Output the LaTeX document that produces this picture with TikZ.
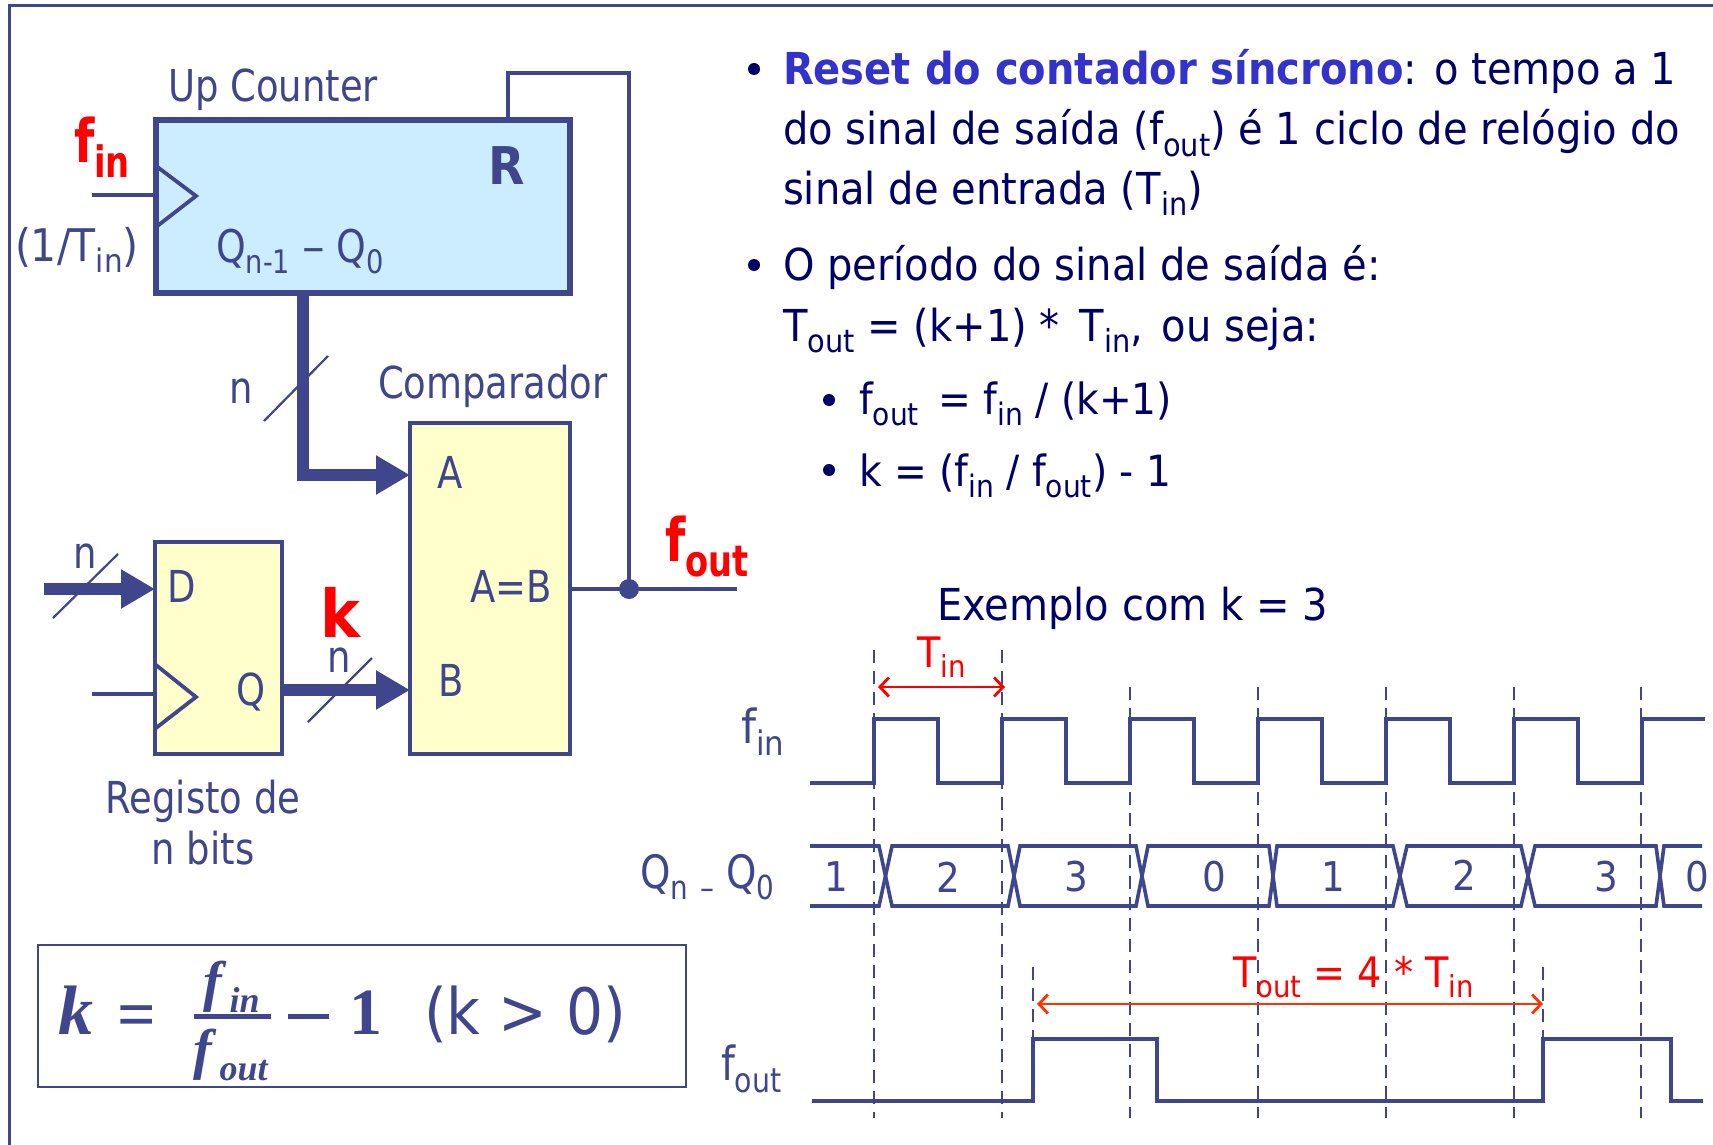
\documentclass[tikz,border=0pt]{standalone}
\usepackage{graphicx}
\usepackage{fontspec}
\usetikzlibrary{arrows.meta,calc}
\setmainfont[FakeStretch=0.78]{DejaVu Sans}
\newfontfamily\navf[FakeStretch=0.91]{DejaVu Sans}
\newfontfamily\lblf[FakeStretch=0.84]{DejaVu Sans}
\newcommand\tabold{\bfseries}
\newfontfamily\serifam{Liberation Serif}
\newcommand\frmbi{\serifam\bfseries\itshape}
\newcommand\frmb{\serifam\bfseries}
\definecolor{ink}{HTML}{3F468C}
\definecolor{navy}{HTML}{000066}
\definecolor{titleblue}{HTML}{3333CC}
\definecolor{boxblue}{HTML}{CCECFF}
\definecolor{boxyellow}{HTML}{FFFFCC}
\definecolor{arrowred}{HTML}{FF3300}
\newcommand\lo[1]{\raisebox{-.26em}{\scalebox{.72}{#1}}}
\newcommand\sz[1]{\fontsize{#1}{#1}\selectfont}
\newcommand\fsub[1]{\kern8pt\raisebox{-12pt}{\fontsize{36}{36}\selectfont #1}}
\tikzset{
  x=1pt,y=-1pt,
  lab/.style={anchor=base west,inner sep=0pt,outer sep=0pt,text=ink,font=\sz{44}\lblf},
  lab+/.style={anchor=base west,inner sep=0pt,outer sep=0pt,text=ink,font=\sz{45}\navf},
  txt/.style={anchor=base west,inner sep=0pt,outer sep=0pt,text=navy,font=\sz{44}\navf},
  redlab/.style={anchor=base west,inner sep=0pt,outer sep=0pt,text=red,font=\sz{60}\tabold},
  redthin/.style={anchor=base west,inner sep=0pt,outer sep=0pt,text=red,font=\sz{42}\navf},
  dot/.style={circle,fill=navy,inner sep=0pt,minimum size=12pt},
  blockbox/.style={draw=ink,inner sep=0pt,outer sep=0pt,line width=4pt},
  wire/.style={draw=ink,line width=3.2pt},
  bus/.style={draw=ink,line width=12pt,-{Triangle[length=34pt,width=37pt]}},
  slash/.style={draw=ink,line width=2.2pt},
  wave/.style={draw=ink,line width=3.6pt,line join=miter},
  guide/.style={draw=ink,line width=1.8pt,dash pattern=on 13pt off 8pt},
  redarrow/.style={line width=2.8pt,{Straight Barb[length=9pt,width=19pt]}-{Straight Barb[length=9pt,width=19pt]}},
  qval/.style={anchor=center,inner sep=0pt,text=ink,font=\sz{41}\navf},
}
\begin{document}
\begin{tikzpicture}
\useasboundingbox (0,0) rectangle (1713,1145);
% frame
\coordinate (fa) at (9,1145); \coordinate (fb) at (9,6); \coordinate (fc) at (1713,6);
\draw[ink,line width=3pt] (fa) -- (fb) -- (fc);

% counter
\node[blockbox,line width=5.5pt,fill=boxblue,minimum width=414pt,minimum height=173pt] (counter) at (363,206.5) {};
\coordinate (ckA) at (156,166); \coordinate (ckB) at (196,196); \coordinate (ckC) at (156,227);
\draw[wire,line width=3.8pt] (ckA) -- (ckB) -- (ckC);
\coordinate (ckin) at (92,195); \coordinate (ckinE) at (156,195);
\draw[wire,line width=3.8pt] (ckin) -- (ckinE);
% comparator, register
\node[blockbox,fill=boxyellow,minimum width=160pt,minimum height=331pt] (cmp) at (490,588.5) {};
\node[blockbox,fill=boxyellow,minimum width=127pt,minimum height=212pt] (reg) at (218.5,648) {};
\coordinate (rA) at (156,665); \coordinate (rB) at (196,697); \coordinate (rC) at (156,728);
\draw[wire,line width=3.8pt] (rA) -- (rB) -- (rC);
\coordinate (rin) at (92,694); \coordinate (rinE) at (156,694);
\draw[wire,line width=3.8pt] (rin) -- (rinE);
% junction and feedback
\node[circle,fill=ink,inner sep=0pt,minimum size=20pt] (jn) at (629,589) {};
\coordinate (rtop) at (508,120); \coordinate (fbk) at (508,73); \coordinate (outE) at (737,589);
\draw[wire] (rtop) -- (fbk) -| (jn.center);
\draw[wire] (cmp.east |- jn) -- (outE);
% buses
\coordinate (qbusS) at (303,293); \coordinate (qbusE) at (410,475);
\draw[bus] (qbusS) |- (qbusE);
\coordinate (dS) at (44,589); \coordinate (dE) at (155,589);
\draw[bus] (dS) -- (dE);
\coordinate (kS) at (282,690); \coordinate (kE) at (410,690);
\draw[bus] (kS) -- (kE);
% slashes
\coordinate (s1a) at (264,421); \coordinate (s1b) at (328,356); \draw[slash] (s1a) -- (s1b);
\coordinate (s2a) at (53,618); \coordinate (s2b) at (118,554); \draw[slash] (s2a) -- (s2b);
\coordinate (s3a) at (308,722); \coordinate (s3b) at (372,658); \draw[slash] (s3a) -- (s3b);

% left labels
\node[lab] (tUp) at (168,102) {Up Counter};
\node[redlab] (tfin) at (74,162) {f\lo{in}};
\node[lab+] (t1T) at (15,261) {(1/T\lo{in})};
\node[lab,font=\sz{52}\navf\tabold] (tR) at (488,184) {R};
\node[lab,font=\sz{45}\lblf] (tQ) at (216,262) {Q\lo{n-1} \scalebox{1.2}[1]{–} Q\lo{0}};
\node[lab] (tn1) at (229,403) {n};
\node[lab] (tCmp) at (378,398) {Comparador};
\node[lab] (tA) at (437,488) {A};
\node[lab] (tAB) at (470,602) {A=B};
\node[lab] (tB) at (438,696) {B};
\node[redlab] (tfout) at (665,561) {f\lo{out}};
\node[lab] (tn2) at (73,568) {n};
\node[lab] (tD) at (167,602) {D};
\node[redlab,font=\sz{66}\navf\tabold] (tk) at (320,637) {k};
\node[lab] (tn3) at (327,672) {n};
\node[lab] (tQ2) at (236,705) {Q};
\node[lab,anchor=base] (tReg) at (203,813) {Registo de};
\node[lab,anchor=base] (tBits) at (203,864) {n bits};

% formula
\node[draw=ink,line width=2pt,inner sep=0pt,minimum width=648pt,minimum height=142pt] (fbox) at (362,1016) {};
\node[lab,font=\sz{70}\frmbi] (fk) at (58,1034) {k};
\node[lab,font=\sz{68}\frmb] (feq) at (117,1037) {=};
\node[lab,font=\sz{56}\frmbi] (ff1) at (203,1000) {f\fsub{in}};
\node[lab,font=\sz{56}\frmbi] (ff2) at (193,1068) {f\fsub{out}};
\coordinate (bar1) at (194,1016); \coordinate (bar2) at (271,1016);
\draw[ink,line width=5pt] (bar1) -- (bar2);
\coordinate (mn1) at (288,1016); \coordinate (mn2) at (329,1016);
\draw[ink,line width=5pt] (mn1) -- (mn2);
\node[lab,font=\sz{66}\frmb] (f1) at (349,1034) {1};
\node[lab,font=\sz{64}\navf] (fkk) at (424,1034) {(k > 0)};

% right text
\node[dot] (b1) at (754,69) {};
\node[txt] (l1) at (783,85) {{\tabold\color{titleblue}Reset do contador síncrono}: o tempo a 1};
\node[txt] (l2) at (783,145) {do sinal de saída (f\lo{out}) é 1 ciclo de relógio do};
\node[txt] (l3) at (783,204) {sinal de entrada (T\lo{in})};
\node[dot] (b2) at (754,265) {};
\node[txt] (l4) at (783,280) {O período do sinal de saída é:};
\node[txt] (l5) at (783,341) {T\lo{out} = (k+1) * \kern7pt T\lo{in}, \kern6pt ou seja:};
\node[dot] (b3) at (829,400) {};
\node[txt,font=\sz{43}\navf] (l6) at (859,414) {f\lo{out}\, = f\lo{in} / (k+1)};
\node[dot] (b4) at (829,470) {};
\node[txt,font=\sz{43}\navf] (l7) at (859,486) {k = (f\lo{in} / f\lo{out}) - 1};
\node[txt] (ex) at (937,620) {Exemplo com k = 3};

% timing labels
\node[lab+,font=\sz{47}\navf] (wf1) at (741,743) {f\lo{in}};
\node[lab,font=\sz{46}\lblf] (wq) at (640,888) {Q\lo{n} \lo{–} Q\lo{0}};
\node[lab,font=\sz{47}\lblf] (wf2) at (721,1080) {f\lo{out}};

% guides
\foreach \n/\gx in {g1/874,g2/1002} {
  \coordinate (\n a) at (\gx,650); \coordinate (\n b) at (\gx,1118);
  \draw[guide] (\n a) -- (\n b);
}
\foreach \n/\gx in {g3/1130,g4/1258,g5/1386,g6/1514,g7/1641} {
  \coordinate (\n a) at (\gx,687); \coordinate (\n b) at (\gx,1118);
  \draw[guide] (\n a) -- (\n b);
}
\coordinate (h1a) at (1033,967); \coordinate (h1b) at (1033,1039); \draw[guide] (h1a) -- (h1b);
\coordinate (h2a) at (1543,967); \coordinate (h2b) at (1543,1039); \draw[guide] (h2a) -- (h2b);

% fin wave
\coordinate (w0) at (810,783);
\draw[wave] (w0) -- (874,783) -- (874,719) -- (938,719) -- (938,783) -- (1002,783) -- (1002,719) -- (1066,719) -- (1066,783) -- (1130,783) -- (1130,719) -- (1194,719) -- (1194,783) -- (1258,783) -- (1258,719) -- (1322,719) -- (1322,783) -- (1386,783) -- (1386,719) -- (1450,719) -- (1450,783) -- (1514,783) -- (1514,719) -- (1578,719) -- (1578,783) -- (1642,783) -- (1642,719) -- (1705,719);
% fout wave
\draw[wave] (812,1101) -- (1033,1101) -- (1033,1039) -- (1157,1039) -- (1157,1101) -- (1543,1101) -- (1543,1039) -- (1671,1039) -- (1671,1101) -- (1703,1101);
% Q bus wave
\draw[wave] (810,846) -- (879,846) -- (892,906) -- (1008,906) -- (1020,846) -- (1136,846) -- (1148,906) -- (1269,906) -- (1277,846) -- (1393,846) -- (1407,906) -- (1521,906) -- (1535,846) -- (1656,846) -- (1664,906) -- (1702,906);
\draw[wave] (810,906) -- (879,906) -- (892,846) -- (1008,846) -- (1020,906) -- (1136,906) -- (1148,846) -- (1269,846) -- (1277,906) -- (1393,906) -- (1407,846) -- (1521,846) -- (1535,906) -- (1656,906) -- (1664,846) -- (1702,846);
\node[qval] (q1) at (836,877) {1};
\node[qval] (q2) at (948,877) {2};
\node[qval] (q3) at (1076,877) {3};
\node[qval] (q4) at (1214,877) {0};
\node[qval] (q5) at (1333,877) {1};
\node[qval] (q6) at (1464,875) {2};
\node[qval] (q7) at (1606,877) {3};
\node[qval] (q8) at (1697,877) {0};

% red annotations
\coordinate (ta) at (878,687); \coordinate (tb) at (1005,687);
\draw[redarrow,red] (ta) -- (tb);
\node[redthin] (tTin) at (917,667) {T\lo{in}};
\coordinate (oa) at (1037,1004); \coordinate (ob) at (1543,1004);
\draw[redarrow,arrowred] (oa) -- (ob);
\node[redthin] (tTout) at (1233,987) {T\lo{out} = 4 * T\lo{in}};
\end{tikzpicture}
\end{document}
